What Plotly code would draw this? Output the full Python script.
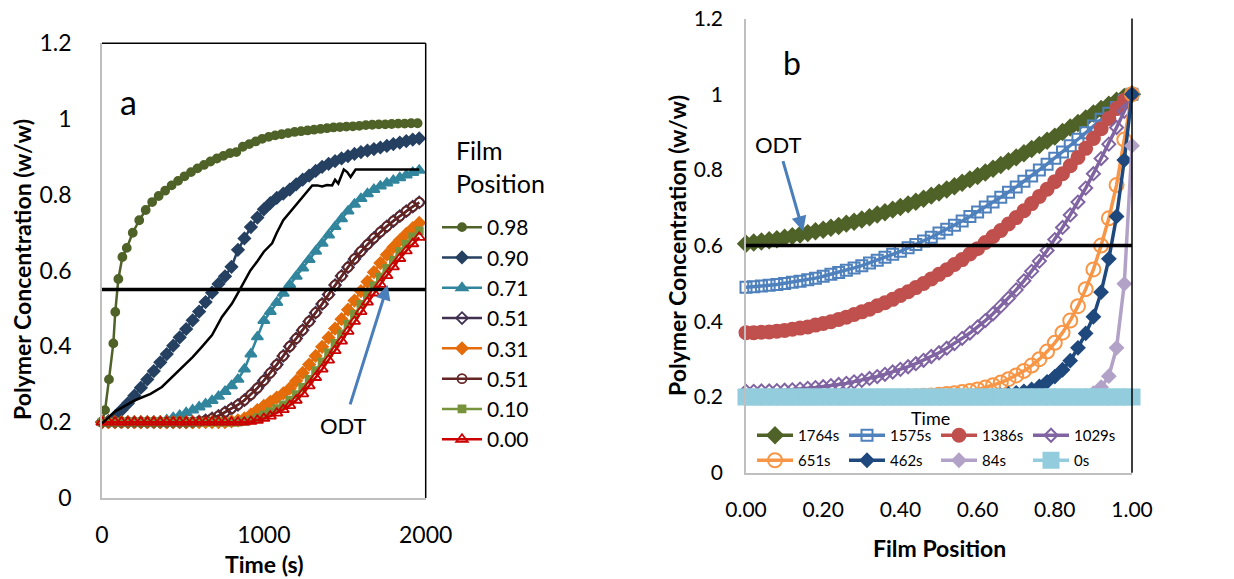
import plotly.graph_objects as go

FONT = "Lato"

# ---------------- Panel a data (time in s, polymer concentration w/w) ----------------
T98 = [0, 19, 43, 70, 82, 101, 126, 153, 190, 230, 270, 310, 350, 390, 430, 470, 510, 550,
       590, 630, 670, 710, 750, 790, 830, 870, 910, 950, 990, 1030, 1070, 1110, 1150, 1190,
       1230, 1270, 1310, 1350, 1390, 1430, 1470, 1510, 1550, 1590, 1630, 1670, 1710, 1750,
       1790, 1830, 1870, 1910, 1950]
C098 = [0.200, 0.232, 0.313, 0.408, 0.491, 0.578, 0.636, 0.660, 0.700, 0.733, 0.760, 0.781,
        0.797, 0.811, 0.825, 0.837, 0.849, 0.860, 0.870, 0.879, 0.888, 0.896, 0.903, 0.910,
        0.913, 0.927, 0.934, 0.941, 0.948, 0.953, 0.957, 0.960, 0.963, 0.966, 0.968, 0.970,
        0.972, 0.974, 0.976, 0.978, 0.979, 0.980, 0.981, 0.982, 0.984, 0.985, 0.986, 0.986,
        0.987, 0.988, 0.988, 0.989, 0.989]

T = [0, 40, 80, 120, 160, 200, 240, 280, 320, 360, 400, 440, 480, 520, 560, 600, 640, 680,
     720, 760, 800, 840, 880, 920, 960, 1000, 1040, 1080, 1120, 1160, 1200, 1240, 1280, 1320,
     1360, 1400, 1440, 1480, 1520, 1560, 1600, 1640, 1680, 1720, 1760, 1800, 1840, 1880,
     1920, 1960]
C090 = [0.200, 0.203, 0.215, 0.232, 0.250, 0.270, 0.291, 0.313, 0.335, 0.358, 0.380, 0.402,
        0.424, 0.446, 0.469, 0.492, 0.517, 0.542, 0.565, 0.585, 0.610, 0.655, 0.685, 0.715,
        0.740, 0.762, 0.778, 0.792, 0.803, 0.814, 0.828, 0.840, 0.851, 0.863, 0.874, 0.882,
        0.889, 0.896, 0.902, 0.908, 0.913, 0.917, 0.921, 0.925, 0.929, 0.934, 0.938, 0.942,
        0.946, 0.949]
C071 = [0.200, 0.200, 0.200, 0.200, 0.200, 0.200, 0.200, 0.200, 0.201, 0.202, 0.206, 0.212,
        0.218, 0.225, 0.232, 0.240, 0.248, 0.257, 0.268, 0.281, 0.296, 0.313, 0.340, 0.380,
        0.425, 0.468, 0.492, 0.516, 0.540, 0.563, 0.585, 0.607, 0.629, 0.651, 0.672, 0.694,
        0.716, 0.737, 0.757, 0.775, 0.790, 0.803, 0.814, 0.823, 0.831, 0.838, 0.845, 0.852,
        0.859, 0.865]
C051D = [0.200, 0.200, 0.200, 0.200, 0.200, 0.200, 0.200, 0.200, 0.200, 0.200, 0.200, 0.200,
         0.200, 0.200, 0.200, 0.202, 0.205, 0.210, 0.217, 0.226, 0.236, 0.246, 0.258, 0.273,
         0.290, 0.310, 0.330, 0.352, 0.375, 0.400, 0.421, 0.443, 0.466, 0.489, 0.512, 0.537,
         0.562, 0.586, 0.609, 0.631, 0.651, 0.669, 0.686, 0.702, 0.717, 0.731, 0.744, 0.757,
         0.769, 0.780]
C031 = [0.200, 0.200, 0.200, 0.200, 0.200, 0.200, 0.200, 0.200, 0.200, 0.200, 0.200, 0.200,
        0.200, 0.200, 0.200, 0.200, 0.200, 0.200, 0.200, 0.200, 0.202, 0.205, 0.210, 0.220,
        0.232, 0.243, 0.254, 0.265, 0.276, 0.289, 0.309, 0.330, 0.352, 0.375, 0.399, 0.423,
        0.447, 0.472, 0.497, 0.521, 0.546, 0.571, 0.596, 0.620, 0.642, 0.662, 0.680, 0.697,
        0.712, 0.726]
C051C = [0.200, 0.200, 0.200, 0.200, 0.200, 0.200, 0.200, 0.200, 0.200, 0.200, 0.200, 0.200,
         0.200, 0.200, 0.200, 0.202, 0.205, 0.210, 0.217, 0.226, 0.236, 0.246, 0.258, 0.273,
         0.290, 0.310, 0.330, 0.352, 0.375, 0.400, 0.421, 0.443, 0.466, 0.489, 0.512, 0.537,
         0.562, 0.586, 0.609, 0.631, 0.651, 0.669, 0.686, 0.702, 0.717, 0.731, 0.744, 0.757,
         0.769, 0.780]
C010 = [0.200, 0.200, 0.200, 0.200, 0.200, 0.200, 0.200, 0.200, 0.200, 0.200, 0.200, 0.200,
        0.200, 0.200, 0.200, 0.200, 0.200, 0.200, 0.200, 0.200, 0.200, 0.200, 0.202, 0.206,
        0.212, 0.219, 0.227, 0.236, 0.246, 0.258, 0.273, 0.292, 0.313, 0.336, 0.359, 0.383,
        0.408, 0.433, 0.459, 0.485, 0.511, 0.536, 0.560, 0.583, 0.606, 0.628, 0.650, 0.670,
        0.689, 0.705]
C000 = [0.200, 0.200, 0.200, 0.200, 0.200, 0.200, 0.200, 0.200, 0.200, 0.200, 0.200, 0.200,
        0.200, 0.200, 0.200, 0.200, 0.200, 0.200, 0.200, 0.200, 0.200, 0.200, 0.200, 0.202,
        0.205, 0.210, 0.216, 0.224, 0.233, 0.244, 0.258, 0.275, 0.296, 0.318, 0.340, 0.364,
        0.389, 0.414, 0.440, 0.466, 0.492, 0.517, 0.541, 0.564, 0.587, 0.610, 0.632, 0.652,
        0.671, 0.688]

TB = [0, 80, 204, 300, 370, 430, 493, 560, 617, 680, 741, 770, 803, 844, 885, 916, 960, 1000,
      1051, 1080, 1120, 1154, 1190, 1230, 1257, 1299, 1330, 1360, 1390, 1422, 1440, 1460,
      1494, 1515, 1536, 1567, 1960]
CB = [0.197, 0.228, 0.258, 0.275, 0.293, 0.318, 0.346, 0.372, 0.399, 0.430, 0.478, 0.495,
      0.513, 0.544, 0.575, 0.600, 0.625, 0.650, 0.672, 0.700, 0.733, 0.751, 0.770, 0.790,
      0.803, 0.825, 0.825, 0.822, 0.826, 0.825, 0.840, 0.830, 0.867, 0.860, 0.847, 0.867,
      0.867]

ODT_A_T = [0, 2000]
ODT_A_C = [0.55, 0.55]

LEFT_NAMES = ["0.98", "0.90", "0.71", "0.51", "0.31", "0.51", "0.10", "0.00"]

# ---------------- Panel b data (film position, polymer concentration w/w) ----------------
X = [0.00, 0.02, 0.04, 0.06, 0.08, 0.10, 0.12, 0.14, 0.16, 0.18, 0.20, 0.22, 0.24, 0.26,
     0.28, 0.30, 0.32, 0.34, 0.36, 0.38, 0.40, 0.42, 0.44, 0.46, 0.48, 0.50, 0.52, 0.54,
     0.56, 0.58, 0.60, 0.62, 0.64, 0.66, 0.68, 0.70, 0.72, 0.74, 0.76, 0.78, 0.80, 0.82,
     0.84, 0.86, 0.88, 0.90, 0.92, 0.94, 0.96, 0.98, 1.00]
R1764 = [0.605, 0.608, 0.611, 0.614, 0.617, 0.621, 0.625, 0.629, 0.633, 0.638,
         0.642, 0.647, 0.652, 0.658, 0.663, 0.669, 0.675, 0.682, 0.688, 0.695,
         0.702, 0.709, 0.716, 0.724, 0.732, 0.740, 0.748, 0.757, 0.766, 0.775,
         0.784, 0.793, 0.803, 0.813, 0.823, 0.833, 0.844, 0.855, 0.866, 0.877,
         0.888, 0.900, 0.912, 0.924, 0.936, 0.949, 0.961, 0.972, 0.983, 0.993, 1.000]
R1575 = [0.490, 0.491, 0.493, 0.495, 0.497, 0.500, 0.503, 0.506, 0.510, 0.514,
         0.519, 0.524, 0.529, 0.535, 0.541, 0.547, 0.554, 0.561, 0.569, 0.577,
         0.585, 0.594, 0.603, 0.612, 0.622, 0.633, 0.643, 0.654, 0.665, 0.677,
         0.689, 0.702, 0.715, 0.728, 0.741, 0.755, 0.770, 0.784, 0.800, 0.815,
         0.831, 0.847, 0.864, 0.881, 0.898, 0.916, 0.934, 0.950, 0.965, 0.983, 1.000]
R1386 = [0.370, 0.370, 0.371, 0.372, 0.374, 0.376, 0.379, 0.382, 0.385, 0.390,
         0.394, 0.399, 0.405, 0.411, 0.418, 0.425, 0.432, 0.441, 0.449, 0.458,
         0.468, 0.478, 0.489, 0.500, 0.512, 0.524, 0.536, 0.550, 0.563, 0.578,
         0.592, 0.608, 0.624, 0.640, 0.657, 0.674, 0.692, 0.711, 0.730, 0.749,
         0.769, 0.790, 0.811, 0.833, 0.857, 0.883, 0.909, 0.936, 0.962, 0.984, 1.000]
R1029 = [0.215, 0.215, 0.216, 0.216, 0.217, 0.218, 0.219, 0.221, 0.223, 0.225,
         0.227, 0.230, 0.233, 0.236, 0.240, 0.244, 0.249, 0.254, 0.260, 0.266,
         0.273, 0.280, 0.288, 0.297, 0.307, 0.317, 0.329, 0.341, 0.355, 0.369,
         0.385, 0.402, 0.420, 0.440, 0.461, 0.483, 0.507, 0.532, 0.559, 0.587,
         0.616, 0.648, 0.681, 0.715, 0.752, 0.790, 0.830, 0.868, 0.912, 0.955, 1.000]
R651 = [0.200, 0.200, 0.200, 0.200, 0.200, 0.200, 0.200, 0.200, 0.200, 0.200,
        0.200, 0.200, 0.200, 0.200, 0.200, 0.200, 0.200, 0.200, 0.200, 0.200,
        0.200, 0.201, 0.202, 0.203, 0.204, 0.206, 0.208, 0.210, 0.213, 0.216,
        0.220, 0.225, 0.231, 0.238, 0.247, 0.257, 0.269, 0.283, 0.300, 0.320,
        0.343, 0.370, 0.402, 0.440, 0.485, 0.537, 0.600, 0.672, 0.760, 0.880, 1.000]
R462 = [0.200, 0.200, 0.200, 0.200, 0.200, 0.200, 0.200, 0.200, 0.200, 0.200,
        0.200, 0.200, 0.200, 0.200, 0.200, 0.200, 0.200, 0.200, 0.200, 0.200,
        0.200, 0.200, 0.200, 0.200, 0.200, 0.200, 0.200, 0.200, 0.200, 0.200,
        0.201, 0.202, 0.203, 0.205, 0.208, 0.211, 0.215, 0.220, 0.228, 0.240,
        0.254, 0.272, 0.296, 0.330, 0.368, 0.412, 0.477, 0.565, 0.677, 0.826, 1.000]
R84 = [0.200, 0.200, 0.200, 0.200, 0.200, 0.200, 0.200, 0.200, 0.200, 0.200,
       0.200, 0.200, 0.200, 0.200, 0.200, 0.200, 0.200, 0.200, 0.200, 0.200,
       0.200, 0.200, 0.200, 0.200, 0.200, 0.200, 0.200, 0.200, 0.200, 0.200,
       0.200, 0.200, 0.200, 0.200, 0.200, 0.200, 0.200, 0.200, 0.200, 0.200,
       0.200, 0.200, 0.200, 0.200, 0.203, 0.210, 0.226, 0.255, 0.330, 0.499, 0.864]
R0 = [0.200, 0.200, 0.200, 0.200, 0.200, 0.200, 0.200, 0.200, 0.200, 0.200,
      0.200, 0.200, 0.200, 0.200, 0.200, 0.200, 0.200, 0.200, 0.200, 0.200,
      0.200, 0.200, 0.200, 0.200, 0.200, 0.200, 0.200, 0.200, 0.200, 0.200,
      0.200, 0.200, 0.200, 0.200, 0.200, 0.200, 0.200, 0.200, 0.200, 0.200,
      0.200, 0.200, 0.200, 0.200, 0.200, 0.200, 0.200, 0.200, 0.200, 0.200, 0.200]

ODT_B_X = [0.0, 1.0]
ODT_B_C = [0.6, 0.6]

RIGHT_NAMES = ["1764s", "1575s", "1386s", "1029s", "651s", "462s", "84s", "0s"]

Y_TICKS = [0, 0.2, 0.4, 0.6, 0.8, 1, 1.2]
A_X_TICKS = [0, 1000, 2000]
B_X_TICKS = [0.0, 0.2, 0.4, 0.6, 0.8, 1.0]

# ---------------- figure ----------------
fig = go.Figure()

left_data = [(T98, C098), (T, C090), (T, C071), (T, C051D), (T, C031), (T, C051C), (T, C010), (T, C000)]
left_style = [
    dict(color="#4f6228", symbol="circle", size=8),
    dict(color="#254061", symbol="diamond", size=9),
    dict(color="#31859c", symbol="triangle-up", size=10),
    dict(color="#403151", symbol="diamond-open", size=9),
    dict(color="#e46c0a", symbol="diamond", size=9),
    dict(color="#632523", symbol="circle-open", size=9),
    dict(color="#77933c", symbol="square", size=7),
    dict(color="#cc0000", symbol="triangle-up-open", size=10),
]
for name, (tx, cy), st in zip(LEFT_NAMES, left_data, left_style):
    fig.add_trace(go.Scatter(
        x=tx, y=cy, name=name, mode="lines+markers", xaxis="x", yaxis="y",
        legend="legend", cliponaxis=False,
        line=dict(color=st["color"], width=2.5),
        marker=dict(symbol=st["symbol"], size=st["size"], color=st["color"],
                    line=dict(color=st["color"], width=1.8)),
    ))

fig.add_trace(go.Scatter(x=TB, y=CB, mode="lines", xaxis="x", yaxis="y", showlegend=False,
                         line=dict(color="black", width=2.5), name="experiment"))
fig.add_trace(go.Scatter(x=ODT_A_T, y=ODT_A_C, mode="lines", xaxis="x", yaxis="y", showlegend=False,
                         line=dict(color="black", width=3.5), name="ODT"))

right_data = [R1764, R1575, R1386, R1029, R651, R462, R84, R0]
right_style = [
    dict(color="#4f6228", symbol="diamond", size=12),
    dict(color="#4f81bd", symbol="square-open", size=11),
    dict(color="#c0504d", symbol="circle", size=13),
    dict(color="#8064a2", symbol="diamond-open", size=10),
    dict(color="#f79646", symbol="circle-open", size=14),
    dict(color="#1f497d", symbol="diamond", size=10),
    dict(color="#b3a2c7", symbol="diamond", size=10),
    dict(color="#93cddd", symbol="square", size=15),
]
for i, (name, cy, st) in enumerate(zip(RIGHT_NAMES, right_data, right_style)):
    fig.add_trace(go.Scatter(
        x=X, y=cy, name=name, mode="lines+markers", xaxis="x2", yaxis="y2",
        legend="legend2" if i < 4 else "legend3", cliponaxis=False,
        line=dict(color=st["color"], width=3.5),
        marker=dict(symbol=st["symbol"], size=st["size"], color=st["color"],
                    line=dict(color=st["color"], width=2)),
    ))

fig.add_trace(go.Scatter(x=ODT_B_X, y=ODT_B_C, mode="lines", xaxis="x2", yaxis="y2", showlegend=False,
                         line=dict(color="black", width=3.5), name="ODT"))

W, H = 1234, 579


def px(x):
    return x / W


def py(y):
    return 1 - y / H


axis_common = dict(showgrid=False, zeroline=False, showline=True, linecolor="#bfbfbf",
                   linewidth=1.5, ticks="", color="black", automargin=False)

fig.update_layout(
    template="none",
    width=W, height=H,
    margin=dict(l=0, r=0, t=0, b=0, pad=0, autoexpand=False),
    paper_bgcolor="white", plot_bgcolor="white",
    font=dict(family=FONT, color="black"),
    xaxis=dict(domain=[px(102), px(425.7)], range=[0, 2000], anchor="y",
               tickmode="array", tickvals=A_X_TICKS, tickfont=dict(size=23),
               ticklabelstandoff=16, **axis_common),
    yaxis=dict(domain=[py(498), py(43.3)], range=[0, 1.2], anchor="x",
               tickmode="array", tickvals=Y_TICKS, tickfont=dict(size=23),
               ticklabelstandoff=24, **axis_common),
    xaxis2=dict(domain=[px(746), px(1132)], range=[0, 1], anchor="y2",
                tickmode="array", tickvals=B_X_TICKS, tickformat=".2f", tickfont=dict(size=21),
                ticklabelstandoff=17, **axis_common),
    yaxis2=dict(domain=[py(472.7), py(18.5)], range=[0, 1.2], anchor="x2",
                tickmode="array", tickvals=Y_TICKS, tickfont=dict(size=21),
                ticklabelstandoff=17, **axis_common),
    legend=dict(x=px(437), y=py(207), xanchor="left", yanchor="top",
                bgcolor="rgba(0,0,0,0)", font=dict(size=21, family=FONT),
                itemwidth=40, tracegroupgap=0),
    legend2=dict(x=px(752), y=py(419), xanchor="left", yanchor="top", orientation="h",
                 bgcolor="rgba(0,0,0,0)", font=dict(size=15, family=FONT),
                 itemwidth=36, entrywidth=41, entrywidthmode="pixels"),
    legend3=dict(x=px(752), y=py(444), xanchor="left", yanchor="top", orientation="h",
                 bgcolor="rgba(0,0,0,0)", font=dict(size=15, family=FONT),
                 itemwidth=36, entrywidth=41, entrywidthmode="pixels"),
    showlegend=True,
)

# plot-area borders (top/right black)
fig.add_shape(type="line", xref="x domain", yref="y domain", x0=0, x1=1, y0=1, y1=1,
              line=dict(color="black", width=1.5))
fig.add_shape(type="line", xref="x domain", yref="y domain", x0=1, x1=1, y0=0, y1=1,
              line=dict(color="black", width=1.5))
fig.add_shape(type="line", xref="x2 domain", yref="y2 domain", x0=1, x1=1, y0=0, y1=1,
              line=dict(color="black", width=1.5))

ann = []
# axis titles
title_font = dict(size=23, family=FONT, color="black")
ann.append(dict(text="<b>Time (s)</b>", x=px(264), y=py(564), xref="paper", yref="paper",
                xanchor="center", yanchor="middle", showarrow=False, font=title_font))
ann.append(dict(text="<b>Film Position</b>", x=px(939), y=py(548), xref="paper", yref="paper",
                xanchor="center", yanchor="middle", showarrow=False, font=title_font))
ann.append(dict(text="<b>Polymer Concentration (w/w)</b>", x=px(22), y=py(270), xref="paper",
                yref="paper", xanchor="center", yanchor="middle", textangle=-90,
                showarrow=False, font=title_font))
ann.append(dict(text="<b>Polymer Concentration (w/w)</b>", x=px(677), y=py(246), xref="paper",
                yref="paper", xanchor="center", yanchor="middle", textangle=-90,
                showarrow=False, font=title_font))
# legend titles
ann.append(dict(text="Film<br>Position", x=px(454), y=py(166), xref="paper", yref="paper",
                xanchor="left", yanchor="middle", align="left", showarrow=False,
                font=dict(size=25, family=FONT, color="black")))
ann.append(dict(text="Time", x=px(930), y=py(418), xref="paper", yref="paper",
                xanchor="center", yanchor="middle", showarrow=False,
                font=dict(size=18, family=FONT, color="black")))
# panel letters
ann.append(dict(text="a", x=161, y=1.047, xref="x", yref="y", showarrow=False,
                xanchor="center", yanchor="middle", font=dict(size=34, family=FONT, color="black")))
ann.append(dict(text="b", x=0.119, y=1.083, xref="x2", yref="y2", showarrow=False,
                xanchor="center", yanchor="middle", font=dict(size=32, family=FONT, color="black")))
# ODT labels with arrows
ann.append(dict(text="ODT", x=1765, y=0.562, xref="x", yref="y", ax=-44, ay=140,
                showarrow=True, arrowhead=2, arrowsize=1, arrowwidth=3, arrowcolor="#4a7ebb",
                startstandoff=6, font=dict(size=22, family=FONT, color="black")))
ann.append(dict(text="ODT", x=0.148, y=0.638, xref="x2", yref="y2", ax=-25, ay=-87,
                showarrow=True, arrowhead=2, arrowsize=1, arrowwidth=3, arrowcolor="#4a7ebb",
                startstandoff=2, font=dict(size=22, family=FONT, color="black")))
fig.update_layout(annotations=ann)

fig.write_html("out.html")
